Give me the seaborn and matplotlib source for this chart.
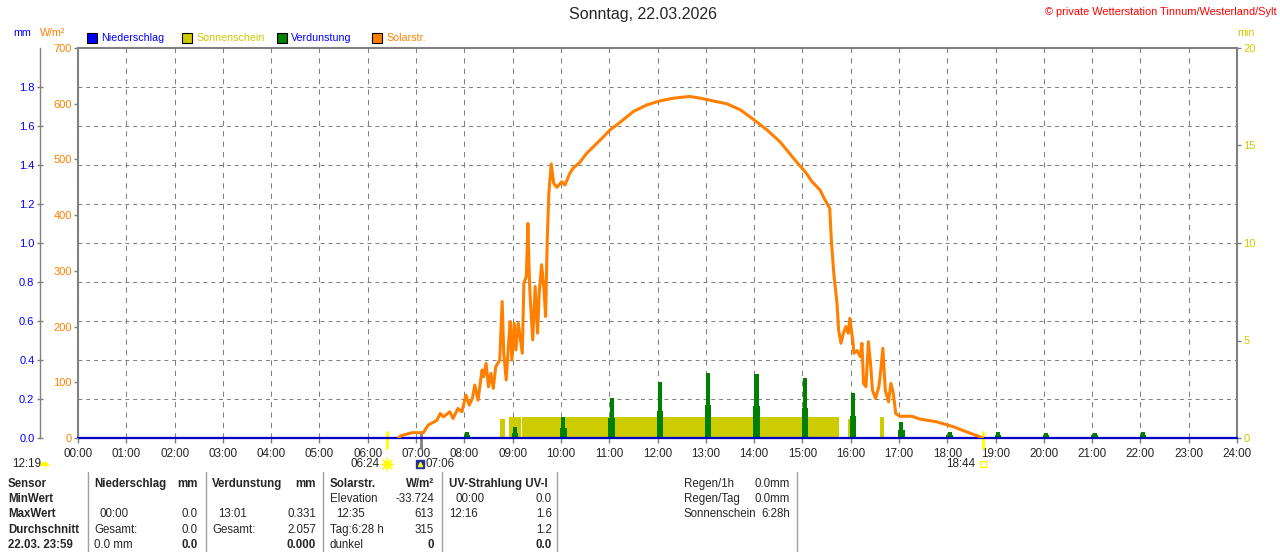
import matplotlib
matplotlib.use('Agg')
import matplotlib.pyplot as plt
from matplotlib.patches import Rectangle
from matplotlib.lines import Line2D
import seaborn as sns

sns.set_style('ticks')
plt.rcParams['font.family'] = ['Liberation Sans', 'DejaVu Sans']

# Solarstrahlung in W/m², Zeit in Minuten des Tages
solar_t = [398, 401, 415, 429, 435, 446, 450, 454, 462, 466, 472, 477, 482, 486, 490, 493,
           497, 502, 504, 507, 510, 513, 516, 519, 524, 527, 529, 532, 535, 537, 539, 542,
           544, 547, 552, 554, 557, 559, 561, 562, 565, 568, 571, 573, 576, 579, 581, 583,
           585, 588, 591, 595, 601, 605, 611, 615, 623, 632, 649, 661, 673, 690, 707, 723,
           740, 760, 773, 789, 806, 823, 839, 856, 872, 889, 905, 912, 922, 926, 934, 936,
           939, 943, 945, 948, 951, 954, 957, 959, 963, 964, 968, 972, 974, 976, 979, 982,
           985, 987, 991, 995, 997, 1000, 1003, 1007, 1010, 1013, 1016, 1021, 1036, 1046,
           1067, 1088, 1104, 1121, 1124]
solar_w = [0, 4, 9.5, 9.5, 23, 32, 44, 38, 47, 35, 53, 47, 77, 59, 71, 95,
           68, 122, 110, 134, 92, 116, 89, 128, 140, 245, 152, 104, 170, 209, 140, 206,
           158, 206, 152, 278, 290, 385, 278, 248, 176, 272, 188, 260, 311, 266, 218, 355,
           439, 492, 457, 450, 460, 454, 475, 484, 494, 511, 535, 553, 566, 586, 598, 605,
           610, 613, 610, 605, 600, 589, 572, 553, 532, 502, 475, 460, 445, 433, 412, 355,
           296, 242, 194, 170, 188, 200, 188, 215, 170, 152, 157, 146, 170, 98, 92, 173,
           128, 86, 71, 92, 116, 161, 86, 65, 98, 80, 44, 39, 39, 34,
           29, 20, 11, 2, 0]

# Niederschlag mm
rain_t = [0, 1440]
rain_mm = [0.0, 0.0]

# Verdunstung mm (Stundenspitzen)
evap_hour = [8, 9, 10, 11, 12, 13, 14, 15, 16, 17, 18, 19, 20, 21, 22]
evap_peak = [0.032, 0.055, 0.106, 0.207, 0.286, 0.331, 0.330, 0.306, 0.229, 0.080,
             0.032, 0.030, 0.028, 0.028, 0.030]
evap_base = [0.015, 0.027, 0.051, 0.104, 0.138, 0.169, 0.166, 0.154, 0.113, 0.040,
             0.015, 0.015, 0.014, 0.014, 0.015]

# Sonnenschein min (Intervalle)
sun_start = [524, 535, 552, 567, 957, 997]
sun_end = [530, 550, 566, 945, 959, 1001]
sun_min = [1.0, 1.07, 1.07, 1.07, 1.0, 1.07]

sunrise_t = 384   # 06:24
dawn_t = 426      # 07:06
sunset_t = 1124   # 18:44

mm_ticks = [0.0, 0.2, 0.4, 0.6, 0.8, 1.0, 1.2, 1.4, 1.6, 1.8]
w_ticks = [0, 100, 200, 300, 400, 500, 600, 700]
min_ticks = [0, 5, 10, 15, 20]
hour_labels = ['%02d:00' % h for h in range(25)]

legend_names = ['Niederschlag', 'Sonnenschein', 'Verdunstung', 'Solarstr.']
legend_colors = ['#0000ff', '#cccc00', '#008000', '#ff8000']
legend_text_colors = ['#0000ff', '#cccc00', '#0000ff', '#ff8000']

table_heads = ['Sensor', 'MinWert', 'MaxWert', 'Durchschnitt', '22.03. 23:59']
table_blocks = [
    # (left x, right x, header, header unit, left texts, right texts)
    (94, 198, 'Niederschlag', 'mm', ['', '00:00', 'Gesamt:', '0.0 mm'], ['', '0.0', '0.0', '0.0']),
    (212, 316, 'Verdunstung', 'mm', ['', '13:01', 'Gesamt:', ''], ['', '0.331', '2.057', '0.000']),
    (330, 434, 'Solarstr.', 'W/m²', ['Elevation', '12:35', 'Tag:6:28 h', 'dunkel'], ['-33.724', '613', '315', '0']),
    (449, 552, 'UV-Strahlung UV-I', '', ['00:00', '12:16', '', ''], ['0.0', '1.6', '1.2', '0.0']),
]
side_labels = ['Regen/1h', 'Regen/Tag', 'Sonnenschein']
side_values = ['0.0mm', '0.0mm', '6:28h']

GREY = '#808080'
W, H = 1280, 552


def P(x, y):
    return x / W, 1 - y / H


fig = plt.figure(figsize=(12.8, 5.52), dpi=100)
ax = fig.add_axes([78 / W, 1 - 438 / H, 1159 / W, 390 / H])
ax_mm = ax.twinx()
ax_w = ax.twinx()

# Sonnenschein (unterste Ebene)
ax.bar(sun_start, sun_min, width=[e - s for s, e in zip(sun_start, sun_end)], align='edge',
       color='#cccc00', linewidth=0, zorder=2)
ax.set_ylim(0, 20)
ax.set_xlim(0, 1440)

# Gitter
ax.xaxis.grid(True, color=GREY, linestyle=(0, (5, 5)), linewidth=0.75)
ax.set_axisbelow(True)
ax.hlines(mm_ticks[1:], 0, 1440, transform=ax_mm.transData, colors=GREY,
          linestyles=[(0, (3.75, 3.75))], linewidth=0.75, zorder=1)

# Verdunstung + Niederschlag
ax_mm.bar([h * 60 - 1 for h in evap_hour], evap_base, width=8, align='edge',
          color='#008000', linewidth=0)
ax_mm.bar([h * 60 + 0.5 for h in evap_hour], evap_peak, width=5, align='edge',
          color='#008000', linewidth=0)
sns.lineplot(x=rain_t, y=rain_mm, ax=ax_mm, color='#0000c8', linewidth=1.6, clip_on=False)
ax_mm.set_ylim(0, 2.0)

# Solarstrahlung
sns.lineplot(x=solar_t, y=solar_w, ax=ax_w, color='#ff8000', linewidth=2.2)
ax_w.set_ylim(0, 700)
ax_w.set_xlim(0, 1440)

# Achsen
ax.yaxis.tick_right()
ax.set_yticks(min_ticks)
ax.set_yticklabels([str(v) for v in min_ticks])
ax.tick_params(axis='y', right=True, left=False, labelright=True, labelleft=False,
               direction='out', length=3, width=1, color=GREY, labelcolor='#cccc00',
               labelsize=8, pad=1.5)
ax.set_xticks(range(0, 1441, 60))
ax.set_xticklabels(hour_labels)
ax.tick_params(axis='x', direction='out', length=3.5, width=1, color=GREY,
               labelsize=8.4, pad=3.5)
for s in ['top', 'left', 'right', 'bottom']:
    ax.spines[s].set_color(GREY)
    ax.spines[s].set_linewidth(1.5)

ax_w.yaxis.tick_left()
ax_w.set_yticks(w_ticks)
ax_w.set_yticklabels([str(v) for v in w_ticks])
ax_w.tick_params(axis='y', left=True, right=False, labelleft=True, labelright=False,
                 direction='out', length=3, width=1, color=GREY, labelcolor='#ff8000',
                 labelsize=8, pad=1.5)
for s in ax_w.spines.values():
    s.set_visible(False)
ax_w.set_ylabel('')

ax_mm.yaxis.tick_left()
ax_mm.set_yticks(mm_ticks)
ax_mm.set_yticklabels(['%.1f' % v for v in mm_ticks])
ax_mm.tick_params(axis='y', left=True, right=False, labelleft=True, labelright=False,
                  direction='inout', length=5, width=1, color=GREY, labelcolor='#0000ff',
                  labelsize=8, pad=1.5)
for s in ['top', 'right', 'bottom']:
    ax_mm.spines[s].set_visible(False)
ax_mm.spines['left'].set_position(('axes', (40 - 78) / 1159))
ax_mm.spines['left'].set_color(GREY)
ax_mm.spines['left'].set_linewidth(1)
ax_mm.set_ylabel('')

# Sonnenauf-/untergang Markierungen
xt = ax.get_xaxis_transform()
for t, c in [(sunrise_t, '#ffff00'), (sunset_t, '#ffff00'), (dawn_t, GREY)]:
    ax.plot([t, t], [0.015, -0.026], transform=xt, color=c, linewidth=2, clip_on=False, zorder=5)
ylab = -(464 - 438) / 390
ax.annotate('06:24', xy=(sunrise_t, ylab), xycoords=xt, xytext=(-5, 0), textcoords='offset points',
            ha='right', va='center', fontsize=8.4)
ax.plot([sunrise_t], [ylab], transform=xt, marker='o', ms=5, color='#ffff00', clip_on=False)
ax.plot([sunrise_t], [ylab], transform=xt, marker='+', ms=10, mew=1, color='#ffff00', clip_on=False)
ax.plot([sunrise_t], [ylab], transform=xt, marker='x', ms=7, mew=1, color='#ffff00', clip_on=False)
ax.annotate('07:06', xy=(dawn_t, ylab), xycoords=xt, xytext=(3, 0), textcoords='offset points',
            ha='left', va='center', fontsize=8.4)
ax.plot([dawn_t - 1], [ylab], transform=xt, marker='s', ms=6, color='#2030a0', clip_on=False)
ax.plot([dawn_t - 1], [ylab], transform=xt, marker='^', ms=3, color='#ffff00', clip_on=False)
ax.annotate('18:44', xy=(sunset_t, ylab), xycoords=xt, xytext=(-5, 0), textcoords='offset points',
            ha='right', va='center', fontsize=8.4)
ax.plot([sunset_t], [ylab], transform=xt, marker='s', ms=4, mfc='none', mec='#ffff00', mew=1,
        clip_on=False)

# Kopfzeile
fig.text(*P(643, 15), 'Sonntag, 22.03.2026', ha='center', va='center', fontsize=11.5)
fig.text(*P(1277, 12), '© private Wetterstation Tinnum/Westerland/Sylt', ha='right', va='center',
         fontsize=7.9, color='#ff0000')
fig.text(*P(13, 33), 'mm', ha='left', va='center', fontsize=7.7, color='#0000ff')
fig.text(*P(40, 33), 'W/m²', ha='left', va='center', fontsize=7.7, color='#ff8000')
fig.text(*P(1237, 33), 'min', ha='left', va='center', fontsize=7.7, color='#cccc00')

leg_x = [87, 182, 277, 372]
for x0, name, col, tcol in zip(leg_x, legend_names, legend_colors, legend_text_colors):
    fx, fy = P(x0, 43)
    fig.add_artist(Rectangle((fx, fy), 10 / W, 10 / H, transform=fig.transFigure,
                             facecolor=col, edgecolor='black', linewidth=0.8))
    fig.text(*P(x0 + 14, 38), name, ha='left', va='center', fontsize=7.7, color=tcol)

# Tageslänge
fig.text(*P(12, 464), '12:19', ha='left', va='center', fontsize=8.4)
fig.add_artist(Line2D([44 / W], [1 - 466 / H], marker='o', ms=7, fillstyle='top',
                      markerfacecolor='#ffff00', markerfacecoloralt='white',
                      markeredgecolor='none', linestyle='none'))

# Tabelle
for x0 in [88, 206, 323, 442, 557, 797]:
    fig.add_artist(Line2D([x0 / W, x0 / W], [1 - 472 / H, 0], color='#a0a0a0', linewidth=1))
row_y = [484, 499, 514, 530, 545]
for y0, txt in zip(row_y, table_heads):
    fig.text(*P(8, y0), txt, ha='left', va='center', fontsize=8.3, fontweight='bold')
for lx, rx, head, unit, ltxt, rtxt in table_blocks:
    fig.text(*P(lx, row_y[0]), head, ha='left', va='center', fontsize=8.3, fontweight='bold')
    if unit:
        fig.text(*P(rx, row_y[0]), unit, ha='right', va='center', fontsize=8.3, fontweight='bold')
    for i, (lt, rt) in enumerate(zip(ltxt, rtxt)):
        y0 = row_y[i + 1]
        indent = 6 if ':' in lt and len(lt) == 5 and lx != 449 else 0
        if lx == 449 and i == 0:
            indent = 6
        fig.text(*P(lx + indent, y0), lt, ha='left', va='center', fontsize=8.3)
        fig.text(*P(rx, y0), rt, ha='right', va='center', fontsize=8.3,
                 fontweight='bold' if i == 3 else 'normal')
for y0, lt, rt in zip(row_y, side_labels, side_values):
    fig.text(*P(684, y0), lt, ha='left', va='center', fontsize=8.3)
    fig.text(*P(790, y0), rt, ha='right', va='center', fontsize=8.3)

fig.savefig('out.png', dpi=100, facecolor='white')
